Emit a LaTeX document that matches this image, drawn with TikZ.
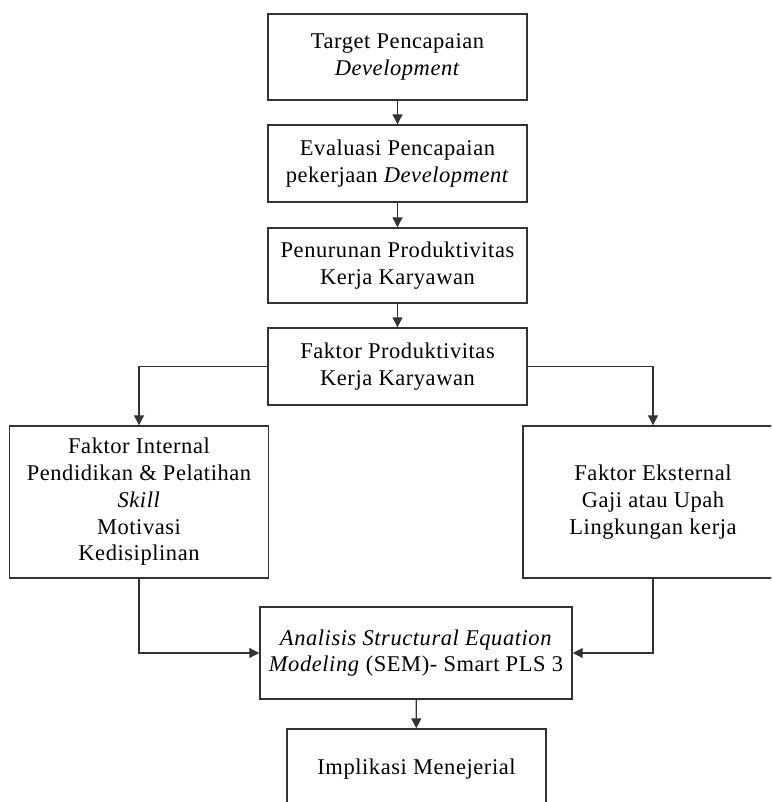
\documentclass[tikz,border=0pt]{standalone}
\usepackage{fontspec}
\setmainfont{Liberation Serif}[LetterSpace=2.5]
\usepackage{tikz}
\usetikzlibrary{arrows.meta,positioning}

\begin{document}
\begin{tikzpicture}[x=0.025cm, y=-0.025cm,
  every node/.style={font=\fontsize{16}{19}\selectfont},
  box/.style={draw=black!80, line width=1pt, align=center, inner sep=2pt},
  arr/.style={-{Triangle[length=7pt,width=7pt]}, line width=0.8pt, draw=black!80}]
  \useasboundingbox (0,0) rectangle (771,802);
  \clip (0,0) rectangle (771,802);

  \node[box, minimum width=6.475cm, minimum height=2.15cm]  (target) at (397.5,57)    {Target Pencapaian\\\textit{Development}};
  \node[box, minimum width=6.475cm, minimum height=1.925cm] (eval)   at (397.5,163.5) {Evaluasi Pencapaian\\pekerjaan \textit{Development}};
  \node[box, minimum width=6.475cm, minimum height=1.875cm] (turun)  at (397.5,265.5) {Penurunan Produktivitas\\Kerja Karyawan};
  \node[box, minimum width=6.475cm, minimum height=1.925cm] (faktor) at (397.5,366.5) {Faktor Produktivitas\\Kerja Karyawan};
  \node[box, minimum width=6.475cm, minimum height=3.8cm]   (intern) at (139,502)     {Faktor Internal\\Pendidikan \& Pelatihan\\\textit{Skill}\\Motivasi\\Kedisiplinan};
  \node[box, minimum width=6.5cm,   minimum height=3.8cm]   (ekstern) at (653,502)    {Faktor Eksternal\\Gaji atau Upah\\Lingkungan kerja};
  \node[box, minimum width=7.8cm,   minimum height=2.3cm]   (sem)    at (416,653)     {\textit{Analisis Structural Equation}\\\textit{Modeling} (SEM)- Smart PLS 3};
  \node[box, minimum width=6.475cm, minimum height=2.0cm]   (impl)   at (416.5,769)   {Implikasi Menejerial};

  \draw[arr] (target) -- (eval);
  \draw[arr] (eval) -- (turun);
  \draw[arr] (turun) -- (faktor);
  \draw[arr] (faktor.west) -| (intern.north);
  \draw[arr] (faktor.east) -| (ekstern.north);
  \draw[arr] (intern.south) |- (sem.west);
  \draw[arr] (ekstern.south) |- (sem.east);
  \draw[arr] (sem) -- (impl);
\end{tikzpicture}
\end{document}
